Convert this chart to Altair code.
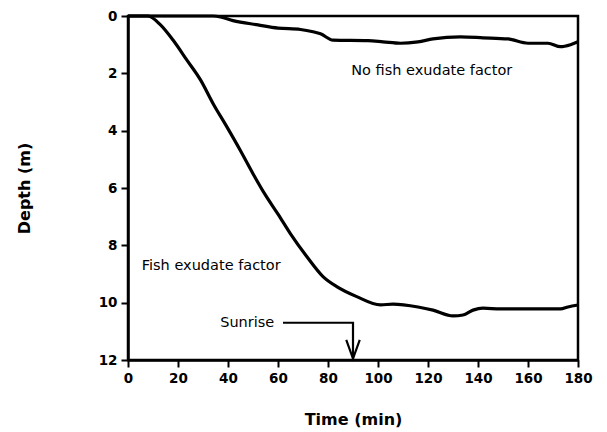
import altair as alt
import pandas as pd

# Fish exudate factor curve
t_fish = [0, 8, 13, 18, 23.5, 29, 34, 39.5, 45, 50, 55, 60, 65, 71.5, 78, 83.5, 91.5, 101, 106, 116, 122, 130, 134, 138, 142, 149, 162, 173, 176, 180]
d_fish = [0, 0, 0.31, 0.84, 1.53, 2.23, 3.05, 3.86, 4.7, 5.5, 6.25, 6.91, 7.6, 8.39, 9.09, 9.44, 9.79, 10.08, 10.05, 10.15, 10.26, 10.46, 10.43, 10.26, 10.19, 10.22, 10.22, 10.22, 10.15, 10.08]

# No fish exudate factor curve
t_nofish = [0, 34, 37, 42, 52, 60, 69, 74, 77, 82, 96, 102, 109, 116, 122, 133, 142, 152, 160, 168, 173, 177, 180]
d_nofish = [0, 0, 0.03, 0.16, 0.31, 0.42, 0.47, 0.55, 0.62, 0.84, 0.86, 0.9, 0.95, 0.9, 0.8, 0.73, 0.76, 0.8, 0.95, 0.95, 1.07, 1.0, 0.9]

# Sunrise pointer and arrow head
arrow_t = [62, 90, 90]
arrow_d = [10.7, 10.7, 11.95]
head_t = [87.3, 90, 92.7]
head_d = [11.3, 11.95, 11.3]

labels = ["No fish exudate factor", "Fish exudate factor", "Sunrise"]
label_t = [121.5, 5.5, 58.5]
label_d = [1.92, 8.72, 10.7]
label_align = ["center", "left", "right"]

x_ticks = list(range(0, 181, 10))
y_ticks = list(range(0, 13, 1))

curves = []
for name, ts, ds in [("fish", t_fish, d_fish), ("nofish", t_nofish, d_nofish)]:
    for i, (t, d) in enumerate(zip(ts, ds)):
        curves.append({"series": name, "t": t, "d": d, "o": i})
curves = pd.DataFrame(curves)

ptr = []
for name, ts, ds in [("arrow", arrow_t, arrow_d), ("head", head_t, head_d)]:
    for i, (t, d) in enumerate(zip(ts, ds)):
        ptr.append({"series": name, "t": t, "d": d, "o": i})
ptr = pd.DataFrame(ptr)

lab = pd.DataFrame({"text": labels, "t": label_t, "d": label_d, "align": label_align})

xscale = alt.Scale(domain=[0, 180], nice=False, zero=False)
yscale = alt.Scale(domain=[0, 12], reverse=True, nice=False)

common = dict(
    titleFontSize=16, titleFontWeight="bold",
    labelFontSize=13.5, labelFontWeight="bold", labelPadding=4, labelFlush=False,
    grid=False, domainColor="black", domainWidth=2.5, tickColor="black", tickWidth=2,
    labelColor="black", titleColor="black", labelFont="DejaVu Sans", titleFont="DejaVu Sans",
)
xaxis = alt.Axis(
    values=x_ticks,
    labelExpr="datum.value % 20 === 0 ? datum.label : ''",
    tickSize={"condition": {"test": "datum.value % 20 === 0", "value": 7}, "value": 3},
    title="Time  (min)", titlePadding=27, **common,
)
yaxis = alt.Axis(
    values=y_ticks,
    labelExpr="datum.value % 2 === 0 ? datum.label : ''",
    tickSize={"condition": {"test": "datum.value % 2 === 0", "value": 7}, "value": 3},
    title="Depth  (m)", titlePadding=66, **common,
)

lines = alt.Chart(curves).mark_line(color="black", strokeWidth=3.2, clip=False,
                                    strokeJoin="round", interpolate="monotone").encode(
    x=alt.X("t:Q", scale=xscale, axis=xaxis),
    y=alt.Y("d:Q", scale=yscale, axis=yaxis),
    detail="series:N",
    order="o:Q",
)

pointer = alt.Chart(ptr).mark_line(color="black", strokeWidth=2.2, clip=False).encode(
    x=alt.X("t:Q", scale=xscale),
    y=alt.Y("d:Q", scale=yscale),
    detail="series:N",
    order="o:Q",
)

texts = []
for al in ["center", "left", "right"]:
    texts.append(
        alt.Chart(lab[lab["align"] == al]).mark_text(
            align=al, baseline="middle", fontSize=14.5, font="DejaVu Sans", color="black"
        ).encode(x=alt.X("t:Q", scale=xscale), y=alt.Y("d:Q", scale=yscale), text="text:N")
    )

chart = alt.layer(lines, pointer, *texts).properties(
    width=450, height=344,
    background="white",
    autosize=alt.AutoSizeParams(type="none"),
    padding={"left": 120, "top": 8, "right": 21, "bottom": 72},
).configure_view(stroke="black", strokeWidth=2.5)

chart.save("out.html", embed_options={"renderer": "svg", "actions": False})
